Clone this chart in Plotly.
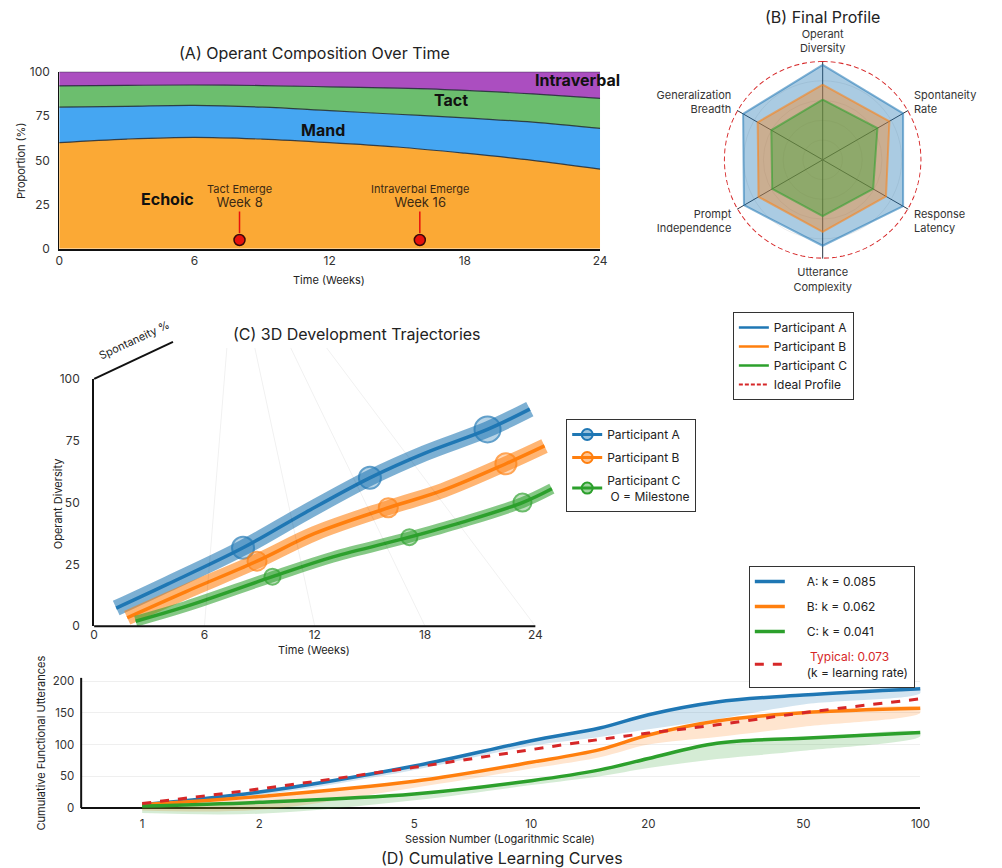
import numpy as np
import plotly.graph_objects as go

FONT = "Inter, Roboto, 'Open Sans', sans-serif"
W, H = 1002, 868
NB = "\u00a0"

# ---------------- Panel A data: operant composition (%) ----------------
weeks = [0, 3, 6, 9, 12, 15, 18, 21, 24]
echoic = [60, 62, 63, 62, 60, 57.5, 54, 50, 45]
mand = [20, 18.5, 18, 18, 18, 18.5, 20, 21.5, 23]
tact = [12, 11.8, 11.5, 12.2, 13.5, 14.7, 15.5, 16, 17]
intraverbal = [8, 7.7, 7.5, 7.8, 8.5, 9.3, 10.5, 12.5, 15]
operant_names = ["Echoic", "Mand", "Tact", "Intraverbal"]
operant_colors = ["#FBA935", "#45A6F2", "#6CBE6E", "#AB4EC0"]
event_names = ["Tact Emerge", "Intraverbal Emerge"]
event_weeks = [8, 16]
event_level = [5, 5]

# ---------------- Panel B data: final profile ----------------
profile_axes = ["Operant<br>Diversity", "Spontaneity<br>Rate", "Response<br>Latency",
                "Utterance<br>Complexity", "Prompt<br>Independence", "Generalization<br>Breadth"]
profile_a = [0.96, 0.94, 0.94, 0.87, 0.92, 0.93]
profile_b = [0.76, 0.78, 0.74, 0.73, 0.75, 0.76]
profile_c = [0.61, 0.64, 0.59, 0.57, 0.59, 0.60]
ideal_level = 1.0

# ---------------- Panel C data: trajectories ----------------
traj_a_weeks = [1.2, 4, 8.1, 11.5, 15, 18, 21.4, 23.7]
traj_a_vals = [7.3, 17, 31.7, 46, 60, 70, 79.6, 87.8]
traj_b_weeks = [1.8, 5, 8.86, 12, 16, 19, 22.4, 24.5]
traj_b_vals = [3.4, 14, 26.3, 37.5, 47.9, 55, 65.7, 72.9]
traj_c_weeks = [2.26, 5, 9.7, 13, 17.15, 20, 23.3, 24.9]
traj_c_vals = [2, 8, 20, 28, 36, 42, 50, 55.6]
mile_a_weeks, mile_a_vals = [8.1, 15, 21.4], [31.7, 60, 79.6]
mile_b_weeks, mile_b_vals = [8.86, 16, 22.4], [26.3, 47.9, 65.7]
mile_c_weeks, mile_c_vals = [9.7, 17.15, 23.3], [20, 36, 50]

# ---------------- Panel D data: cumulative learning ----------------
sessions = [1, 2, 5, 10, 15, 20, 30, 50, 100]
curve_a = [5, 25, 66, 106, 126, 147, 167, 178, 188]
curve_b = [5, 18, 42, 72, 92, 115, 137, 150, 157]
curve_c = [3, 9, 22, 43, 60, 78, 102, 110, 119]
curve_typical = [7, 30, 64, 92, 108, 118, 131, 150, 172]
lower_a = [2, 20, 60, 98, 112, 124, 140, 163, 181]
lower_b = [-4, -3, 32, 62, 80, 100, 112, 128, 150]
lower_c = [-8, -9, 12, 36, 50, 63, 77, 90, 113]
k_values = [0.085, 0.062, 0.041]
k_typical = 0.073

participants = ["Participant A", "Participant B", "Participant C"]
colors = ["#1f77b4", "#ff7f0e", "#2ca02c"]
rgba = ["rgba(31,119,180,{a})", "rgba(255,127,14,{a})", "rgba(44,160,44,{a})"]
RED = "#d62728"

# ---------------- page-pixel -> paper helpers ----------------
SX, OX = 0.988, 10.7
SY, OY = 0.982, 15.3


def px(p):
    return ((p - OX) / SX) / W


def py(p):
    return 1 - ((p - OY) / SY) / H


A_X = [px(58), px(600)]
A_Y = [py(248), py(71)]
C_RANGE_X = [0, 25.2]
C_X = [px(93), px(93 + 25.2 * 18.42)]
C_Y = [py(625), py(378)]
D_X = [px(80), px(921)]
D_Y = [py(814.3), py(676.7)]
D_RANGE_Y = [-12, 205]


def c_paper(wk, val):
    return (C_X[0] + (wk - C_RANGE_X[0]) / (C_RANGE_X[1] - C_RANGE_X[0]) * (C_X[1] - C_X[0]),
            C_Y[0] + val / 100 * (C_Y[1] - C_Y[0]))


def d_paper_y(val):
    return D_Y[0] + (val - D_RANGE_Y[0]) / (D_RANGE_Y[1] - D_RANGE_Y[0]) * (D_Y[1] - D_Y[0])


fig = go.Figure()

# ---- Panel A ----
for name, vals, col in zip(operant_names, [echoic, mand, tact, intraverbal], operant_colors):
    fig.add_trace(go.Scatter(x=weeks, y=vals, stackgroup="ops", mode="lines", name=name,
                             line=dict(color="rgba(30,40,50,0.85)", width=1.2, shape="spline"),
                             fillcolor=col, showlegend=False, xaxis="x", yaxis="y"))
fig.add_trace(go.Scatter(x=event_weeks, y=event_level, mode="markers", showlegend=False,
                         marker=dict(size=11, color="#e8120c", line=dict(color="#3a0a0a", width=1.5)),
                         xaxis="x", yaxis="y", cliponaxis=False))

# ---- Panel B ----
theta = [i * 360 / len(profile_axes) for i in range(len(profile_axes))]
for name, vals, i in zip(participants, [profile_a, profile_b, profile_c], range(3)):
    fig.add_trace(go.Scatterpolar(r=vals + vals[:1], theta=theta + theta[:1], mode="lines",
                                  fill="toself", fillcolor=rgba[i].format(a=0.38),
                                  line=dict(color=rgba[i].format(a=0.55), width=2),
                                  showlegend=False, subplot="polar"))
circle_theta = np.linspace(0, 360, 181)
fig.add_trace(go.Scatterpolar(r=[ideal_level] * len(circle_theta), theta=circle_theta, mode="lines",
                              line=dict(color=RED, width=2, dash="5px,3px"), showlegend=False,
                              subplot="polar"))
# legend for B
for name, i in zip(participants, range(3)):
    fig.add_trace(go.Scatter(x=[None], y=[None], mode="lines", name=name,
                             line=dict(color=colors[i], width=2.5), legend="legend"))
fig.add_trace(go.Scatter(x=[None], y=[None], mode="lines", name="Ideal Profile",
                         line=dict(color=RED, width=2, dash="4px,2px"), legend="legend"))

# ---- Panel C ----
trajs = [(traj_a_weeks, traj_a_vals, mile_a_weeks, mile_a_vals, 16, [22, 22, 26]),
         (traj_b_weeks, traj_b_vals, mile_b_weeks, mile_b_vals, 15, [19, 19, 21]),
         (traj_c_weeks, traj_c_vals, mile_c_weeks, mile_c_vals, 11, [16, 16, 18])]
for i, (tw, tv, mw, mv, bw, ms) in enumerate(trajs):
    fig.add_trace(go.Scatter(x=tw, y=tv, mode="lines", showlegend=False,
                             line=dict(color=rgba[i].format(a=0.58), width=bw, shape="spline"),
                             xaxis="x2", yaxis="y2"))
    fig.add_trace(go.Scatter(x=tw, y=tv, mode="lines", showlegend=False,
                             line=dict(color=colors[i], width=3.5, shape="spline"),
                             xaxis="x2", yaxis="y2"))
    fig.add_trace(go.Scatter(x=mw, y=mv, mode="markers", showlegend=False,
                             marker=dict(size=ms, color=rgba[i].format(a=0.45),
                                         line=dict(color=colors[i], width=2)),
                             xaxis="x2", yaxis="y2", cliponaxis=False))
    nm = participants[i] + ("<br>" + NB * 1 + "O = Milestone" if i == 2 else "")
    fig.add_trace(go.Scatter(x=[None], y=[None], mode="lines+markers", name=nm,
                             line=dict(color=colors[i], width=3),
                             marker=dict(size=11, color=rgba[i].format(a=0.45),
                                         line=dict(color=colors[i], width=2)),
                             legend="legend2", legendgroup="C%d" % i))

# ---- Panel D ----
for i, (cv, lv) in enumerate([(curve_a, lower_a), (curve_b, lower_b), (curve_c, lower_c)]):
    fig.add_trace(go.Scatter(x=sessions + sessions[::-1], y=cv + lv[::-1], mode="lines",
                             fill="toself", fillcolor=rgba[i].format(a=0.2),
                             line=dict(width=0, shape="spline"), showlegend=False,
                             hoverinfo="skip", xaxis="x3", yaxis="y3"))
for i, cv in enumerate([curve_a, curve_b, curve_c]):
    label = "ABC"[i]
    fig.add_trace(go.Scatter(x=sessions, y=cv, mode="lines",
                             name=NB * 5 + f"{label}: k = {k_values[i]:.3f}" + NB * 8,
                             line=dict(color=colors[i], width=3.5, shape="spline"),
                             xaxis="x3", yaxis="y3", legend="legend3", legendgroup="D%d" % i))
fig.add_trace(go.Scatter(x=sessions, y=curve_typical, mode="lines",
                         name=NB * 5 + f"<span style='color:{RED}'>{NB * 1}Typical: {k_typical:.3f}</span>"
                              + "<br>" + NB * 5 + "(k = learning rate)",
                         line=dict(color=RED, width=3, dash="dash", shape="spline"),
                         xaxis="x3", yaxis="y3", legend="legend3", legendgroup="D3"))

# ---------------- shapes ----------------
shapes = []
# Panel C pseudo-3D guides
for t, (tx, ty) in zip([6, 12, 18, 24], [(226, 347), (254, 347), (290, 347), (326, 347)]):
    bx, by = c_paper(t, 0)
    shapes.append(dict(type="line", xref="paper", yref="paper", x0=bx, y0=by, x1=px(tx), y1=py(ty),
                       line=dict(color="rgba(0,0,0,0.06)", width=1)))
x0c, y0c = c_paper(0, 0)
x24c, _ = c_paper(24, 0)
_, y100c = c_paper(0, 100)
shapes.append(dict(type="line", xref="paper", yref="paper", x0=x0c, y0=y0c, x1=x24c, y1=y0c,
                   line=dict(color="#111", width=2)))
shapes.append(dict(type="line", xref="paper", yref="paper", x0=x0c, y0=y100c, x1=px(172), y1=py(341),
                   line=dict(color="#111", width=2)))
# Panel D y axis line
shapes.append(dict(type="line", xref="paper", yref="paper", x0=D_X[0], y0=d_paper_y(0), x1=D_X[0],
                   y1=d_paper_y(D_RANGE_Y[1]), line=dict(color="#111", width=2)))

# ---------------- annotations ----------------
def ann(text, x, y, size=12, angle=0, color="#222", bold=False, **kw):
    d = dict(text=("<b>%s</b>" % text) if bold else text, x=px(x), y=py(y), xref="paper", yref="paper",
             showarrow=False, textangle=angle, font=dict(size=size, color=color, family=FONT),
             xanchor="center", yanchor="middle")
    d.update(kw)
    return d

annotations = [
    ann("(A) Operant Composition Over Time", 314, 52, 16),
    ann("(B) Final Profile", 823, 16, 16),
    ann("(C) 3D Development Trajectories", 356, 333, 16),
    ann("(D) Cumulative Learning Curves", 502, 857, 16),
    ann("Proportion (%)", 20, 160, 11, -90),
    ann("Time (Weeks)", 328, 279, 11),
    ann("Operant Diversity", 57, 503, 11, -90),
    ann("Time (Weeks)", 313, 649, 11),
    ann("Spontaneity %", 133, 339, 11, -25),
    ann("Cumulative Functional Utterances", 40, 742, 11, -90),
    ann("Session Number (Logarithmic Scale)", 500, 838, 11),
]
op_label_x = [4.8, 11.7, 17.4, 23.0]
op_label_y = [28, 67, 84, 95.5]
for name, lx, ly in zip(operant_names, op_label_x, op_label_y):
    annotations.append(dict(text="<b>%s</b>" % name, x=lx, y=ly, xref="x", yref="y", showarrow=False,
                            font=dict(size=16, color="#111", family=FONT)))
for name, wk, lv in zip(event_names, event_weeks, event_level):
    annotations.append(dict(text="%s<br><span style='font-size:13px'>Week %d</span>" % (name, wk),
                            x=wk, y=lv, xref="x", yref="y", showarrow=True, arrowhead=0,
                            arrowcolor="#e8120c", arrowwidth=1.5, ax=0, ay=-44, standoff=7,
                            font=dict(size=11, color="#3b2a14", family=FONT)))

axis_common = dict(showgrid=False, zeroline=False, ticks="", tickfont=dict(size=12, color="#333", family=FONT))
legend_common = dict(bgcolor="white", bordercolor="#333", borderwidth=1,
                     font=dict(size=12, color="#222", family=FONT), xanchor="left", yanchor="top")

fig.update_layout(
    width=W, height=H, margin=dict(l=0, r=0, t=0, b=0),
    paper_bgcolor="white", plot_bgcolor="white",
    font=dict(family=FONT, color="#222"),
    xaxis=dict(domain=A_X, range=[0, 24], tickvals=[0, 6, 12, 18, 24], showline=True, linecolor="#111",
               linewidth=2, anchor="y", **axis_common),
    yaxis=dict(domain=A_Y, range=[0, 100], tickvals=[0, 25, 50, 75, 100], showline=True, linecolor="#111",
               linewidth=1, anchor="x", ticklabelstandoff=6, **axis_common),
    xaxis2=dict(domain=C_X, range=C_RANGE_X, tickvals=[0, 6, 12, 18, 24], showline=False, anchor="y2",
                **axis_common),
    yaxis2=dict(domain=C_Y, range=[0, 100], tickvals=[0, 25, 50, 75, 100], showline=True, linecolor="#111",
                linewidth=2, anchor="x2", ticklabelstandoff=10, **axis_common),
    xaxis3=dict(domain=D_X, type="log", range=[np.log10(0.697), 2], tickvals=[1, 2, 5, 10, 20, 50, 100],
                showline=False, anchor="y3", showgrid=False, zeroline=False, ticks="",
                tickfont=dict(size=11.5, color="#333", family=FONT)),
    yaxis3=dict(domain=D_Y, range=D_RANGE_Y, tickvals=[0, 50, 100, 150, 200], showline=False, anchor="x3",
                showgrid=True, gridcolor="#efefef", zeroline=True, zerolinecolor="#111", zerolinewidth=2,
                ticks="", ticklabelstandoff=6, tickfont=dict(size=11.5, color="#333", family=FONT)),
    polar=dict(domain=dict(x=[px(724), px(922)], y=[py(258), py(60)]), bgcolor="white",
               angularaxis=dict(tickvals=theta, ticktext=profile_axes, rotation=90, direction="clockwise",
                                showline=False, gridcolor="#2b3440", gridwidth=1,
                                ticks="outside", ticklen=4, tickcolor="rgba(0,0,0,0)",
                                tickfont=dict(size=11, color="#333", family=FONT)),
               radialaxis=dict(range=[0, 1], showticklabels=False, ticks="", showline=False,
                               gridcolor="rgba(0,0,0,0.07)", tickvals=[0.2, 0.4, 0.6, 0.8])),
    legend=dict(x=px(733), y=py(311), traceorder="normal", **legend_common),
    legend2=dict(x=px(566), y=py(418), traceorder="grouped", tracegroupgap=4, **legend_common),
    legend3=dict(x=px(749), y=py(565), traceorder="grouped", tracegroupgap=6, **legend_common),
    shapes=shapes, annotations=annotations,
)

fig.write_html("out.html")
